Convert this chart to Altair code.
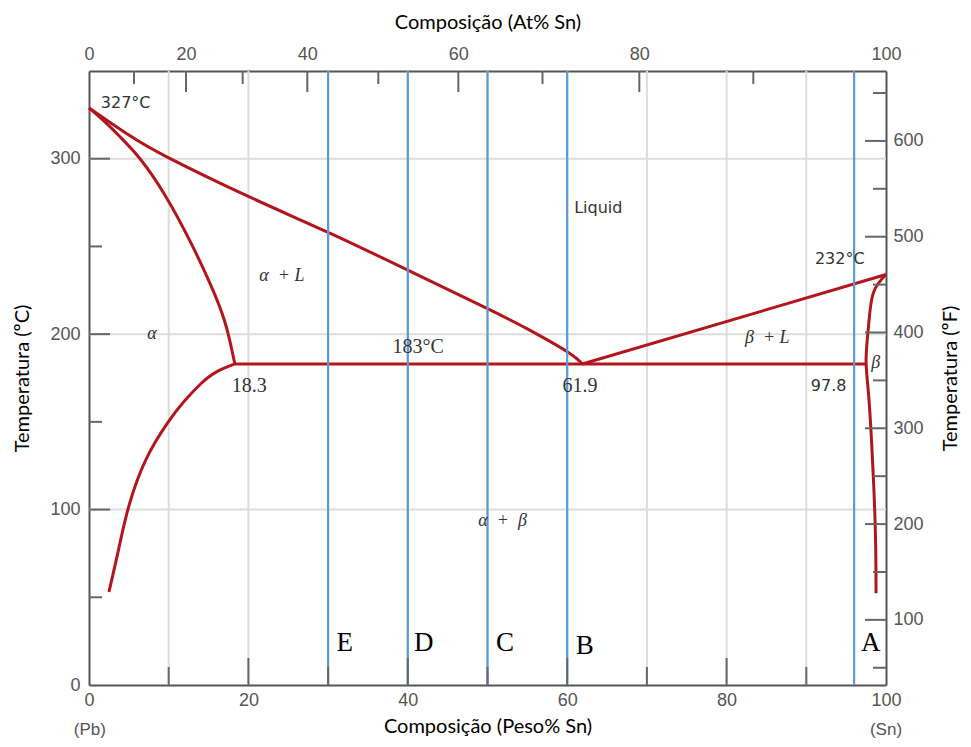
import altair as alt
import pandas as pd

# ---------------- data ----------------
liq_left_wt = [0, 5, 10, 20, 30, 40, 50, 55, 60, 61.9]
liq_left_T = [329, 313.5, 300.5, 278.5, 258, 236.5, 214.5, 203, 190, 183]
sol_left_wt = [0, 2, 4, 6.4, 9.5, 12.9, 15.8, 17.3, 18.3]
sol_left_T = [329, 321, 312, 300, 279.5, 251, 222.4, 203, 183]
solvus_left_wt = [18.3, 16.0, 14.1, 12.0, 9.95, 7.2, 5.0, 3.7, 2.5]
solvus_left_T = [183, 178.5, 172, 162, 150, 129, 102, 77, 53]
liq_right_wt = [61.9, 100]
liq_right_T = [183, 234]
eut_wt = [18.3, 97.6]
eut_T = [183, 183]
beta_wt = [100, 98.4, 97.8, 97.5, 97.8, 98.2, 98.5, 98.7, 98.75]
beta_T = [234, 223.4, 204.3, 185.4, 166.4, 137.9, 109.3, 80.8, 52.3]

blue_wt = [30, 40, 50, 60, 96]
letters = ["E", "D", "C", "B", "A"]
letters_wt = [32.1, 42.0, 52.2, 62.2, 98.1]
letters_T = [24, 24, 24, 22.2, 24]

sans_text = ["327°C", "Liquid", "232°C", "97.8"]
sans_wt = [4.6, 63.9, 94.2, 92.8]
sans_T = [332, 272, 243, 170.4]
serif_text = ["183°C", "18.3", "61.9"]
serif_wt = [41.3, 20.1, 61.6]
serif_T = [192.6, 170.4, 170.4]
ital_text = ["α\u00a0\u00a0+\u00a0L", "α", "β\u00a0\u00a0+\u00a0L", "β", "α\u00a0\u00a0+\u00a0\u00a0β"]
ital_wt = [24.2, 7.9, 85.1, 98.7, 51.9]
ital_T = [233, 200, 197.8, 183.6, 93.5]
end_text = ["(Pb)", "(Sn)"]
end_wt = [0.1, 100]
end_T = [-25.5, -25.5]

grid_wt = [10, 20, 30, 40, 50, 60, 70, 80, 90]
grid_T = [100, 200, 300]

bottom_labels = [0, 20, 40, 60, 80, 100]
bottom_major = [20, 40, 60, 80]
bottom_minor = [10, 30, 50, 70, 90]
left_labels = [0, 100, 200, 300]
left_major = [100, 200, 300]
left_minor = [50, 150, 250]

top_labels = ["0", "20", "40", "60", "80", "100"]
top_major_wt = [0, 12.17, 27.39, 46.34, 69.05, 100]
top_minor_wt = [5.65, 19.28, 36.3, 56.9, 83.35]

right_labels = [100, 200, 300, 400, 500, 600]
right_minor = [50, 150, 250, 350, 450, 550, 650]
F_domain = [32, 673]

# ---------------- styling ----------------
W, H = 797, 614
RED = "#b3151c"
BLUE = "#5b9bd5"
GRID = "#dcdcdc"
TICK = "#666666"
AX = "#555555"
LABF = "Liberation Sans"
ANNF = "DejaVu Sans"
TITF = "Lato"

xs = alt.Scale(domain=[0, 100], nice=False, zero=False)
ys = alt.Scale(domain=[0, 350], nice=False, zero=False)
fs = alt.Scale(domain=F_domain, nice=False, zero=False)

common_axis = dict(
    tickSize=0, labelFont=LABF, labelFontSize=18, labelColor=AX,
    domainColor=AX, domainWidth=2, grid=False, labelOverlap=False,
    labelFlush=False, titleFont=TITF, titleFontSize=20,
    titleFontWeight="normal", titleColor="black",
)

segs = []
for name, wts, ts in [
    ("liq_left", liq_left_wt, liq_left_T),
    ("sol_left", sol_left_wt, sol_left_T),
    ("solvus_left", solvus_left_wt, solvus_left_T),
    ("liq_right", liq_right_wt, liq_right_T),
    ("eut", eut_wt, eut_T),
    ("beta", beta_wt, beta_T),
]:
    for i, (w, t) in enumerate(zip(wts, ts)):
        segs.append({"seg": name, "i": i, "wt": w, "T": t})
seg_df = pd.DataFrame(segs)

grid_v = alt.Chart(pd.DataFrame({"wt": grid_wt})).mark_rule(
    color=GRID, strokeWidth=2).encode(x=alt.X("wt:Q", scale=xs, axis=None))
grid_h = alt.Chart(pd.DataFrame({"T": grid_T})).mark_rule(
    color=GRID, strokeWidth=2).encode(y=alt.Y("T:Q", scale=ys, axis=None))

lines = alt.Chart(seg_df).mark_line(
    color=RED, strokeWidth=3, interpolate="natural").encode(
    x=alt.X("wt:Q", scale=xs, axis=alt.Axis(
        orient="bottom", values=bottom_labels, labelPadding=6,
        title="Composição (Peso% Sn)", titlePadding=7, **common_axis)),
    y=alt.Y("T:Q", scale=ys, axis=alt.Axis(
        orient="left", values=left_labels, labelPadding=9,
        title="Temperatura (ºC)", titlePadding=17, **common_axis)),
    detail="seg:N",
    order="i:Q",
)

blue = alt.Chart(pd.DataFrame({"wt": blue_wt})).mark_rule(
    color=BLUE, strokeWidth=2.2).encode(x=alt.X("wt:Q", scale=xs, axis=None))


def xticks(vals, length, top=False, axis=None):
    df = pd.DataFrame({"wt": vals})
    if top:
        y, y2 = alt.value(0), alt.value(length)
    else:
        y, y2 = alt.value(H), alt.value(H - length)
    return alt.Chart(df).mark_rule(color=TICK, strokeWidth=2).encode(
        x=alt.X("wt:Q", scale=xs, axis=axis), y=y, y2=y2)


def yticks(vals, scale, x0, x1, axis=None):
    df = pd.DataFrame({"T": vals})
    return alt.Chart(df).mark_rule(color=TICK, strokeWidth=2).encode(
        y=alt.Y("T:Q", scale=scale, axis=axis), x=alt.value(x0), x2=alt.value(x1))


expr = ""
for w, lab in zip(top_major_wt, top_labels):
    expr += f"abs(datum.value - {w}) < 0.5 ? '{lab}' : "
expr += "''"

top_axis = alt.Axis(orient="top", values=top_major_wt, labelExpr=expr,
                    labelPadding=8, title="Composição (At% Sn)",
                    titlePadding=13, **common_axis)

left_maj = yticks(left_major, ys, 0, 21)
left_min = yticks(left_minor, ys, 0, 13)
bot_maj = xticks(bottom_major, 27)
bot_min = xticks(bottom_minor, 18)
top_maj = xticks(top_major_wt[1:-1], 21, top=True, axis=top_axis)
top_min = xticks(top_minor_wt, 13, top=True)

right_axis = alt.Axis(orient="right", values=right_labels, labelPadding=7,
                      title="Temperatura (ºF)", titlePadding=17,
                      titleAngle=270, titleBaseline="top", **common_axis)
right_maj = yticks(right_labels, fs, W - 21, W, axis=right_axis)
right_min = yticks(right_minor, fs, W - 13, W)


def texts(txt, wts, ts, **kw):
    df = pd.DataFrame({"txt": txt, "wt": wts, "T": ts})
    return alt.Chart(df).mark_text(baseline="middle", align="center", **kw).encode(
        x=alt.X("wt:Q", scale=xs, axis=None),
        y=alt.Y("T:Q", scale=ys, axis=None),
        text="txt:N")


t_sans = texts(sans_text, sans_wt, sans_T, font=ANNF, fontSize=16, color="#333333")
t_serif = texts(serif_text, serif_wt, serif_T, font="Liberation Serif", fontSize=20, color="#333333")
t_ital = texts(ital_text, ital_wt, ital_T, font="Liberation Serif", fontSize=18,
               fontStyle="italic", color="#333333")
t_letters = texts(letters, letters_wt, letters_T, font="Liberation Serif", fontSize=27, color="black")
t_end = texts(end_text, end_wt, end_T, font=LABF, fontSize=17, color=AX)

chart = alt.layer(
    grid_v, grid_h, lines, blue,
    left_maj, left_min, bot_maj, bot_min, top_maj, top_min,
    right_maj, right_min,
    t_sans, t_serif, t_ital, t_letters, t_end,
).resolve_scale(y="independent").properties(
    width=W, height=H,
    autosize=alt.AutoSizeParams(type="none"),
    padding={"left": 81, "top": 63, "right": 77, "bottom": 54},
).configure_view(stroke=None)

chart.save("out.html", embed_options={"renderer": "svg", "actions": False})
